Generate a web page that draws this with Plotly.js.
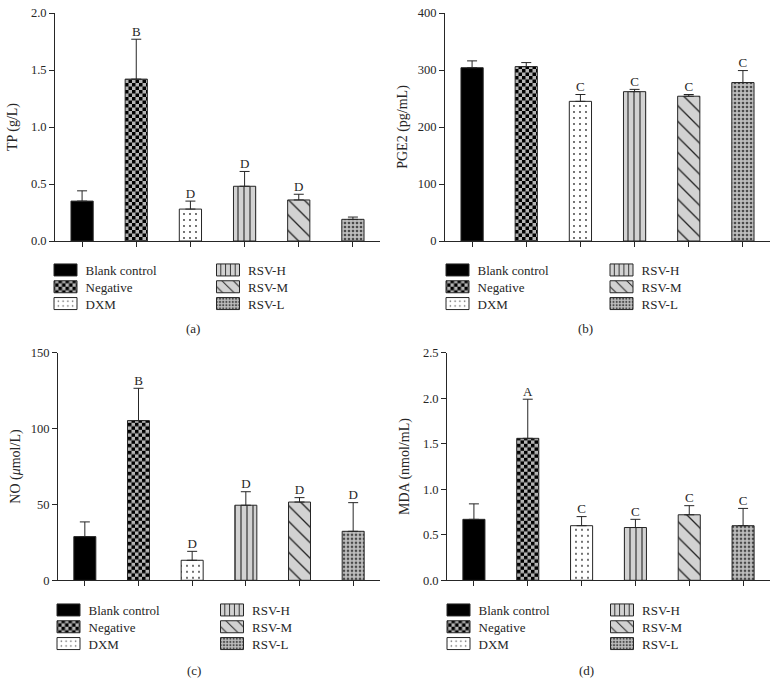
<!DOCTYPE html>
<html>
<head>
<meta charset="utf-8">
<script src="https://cdn.plot.ly/plotly-3.0.1.min.js"></script>
<style>
html,body{margin:0;padding:0;background:#fff;}
#chart{width:780px;height:695px;}
</style>
</head>
<body>
<div id="chart"></div>
<script>
// ---- data ----
const groups = ['Blank control', 'Negative', 'DXM', 'RSV-H', 'RSV-M', 'RSV-L'];

const tpValues = [0.35, 1.42, 0.28, 0.48, 0.36, 0.19];
const tpErrors = [0.09, 0.35, 0.07, 0.13, 0.05, 0.02];
const tpLetters = ['', 'B', 'D', 'D', 'D', ''];

const pgeValues = [304, 306, 245, 262, 254, 278];
const pgeErrors = [12, 7, 12, 4, 3, 21];
const pgeLetters = ['', '', 'C', 'C', 'C', 'C'];

const noValues = [28.8, 105.3, 13.2, 49.5, 51.6, 32.3];
const noErrors = [9.7, 21.3, 5.9, 8.9, 2.9, 18.9];
const noLetters = ['', 'B', 'D', 'D', 'D', 'D'];

const mdaValues = [0.67, 1.56, 0.60, 0.58, 0.72, 0.60];
const mdaErrors = [0.17, 0.43, 0.10, 0.09, 0.10, 0.19];
const mdaLetters = ['', 'A', 'C', 'C', 'C', 'C'];

const panelTitles = ['TP (g/L)', 'PGE2 (pg/mL)', 'NO (<i>μ</i>mol/L)', 'MDA (nmol/mL)'];
const panelLabels = ['(a)', '(b)', '(c)', '(d)'];
const yRanges = [[0, 2], [0, 400], [0, 150], [0, 2.5]];
const yDticks = [0.5, 100, 50, 0.5];
const yFormats = ['.1f', 'd', 'd', '.1f'];

// ---- styles ----
const FONT = 'Liberation Serif, Times New Roman, serif';
const INK = '#262626';
const barStyles = [
  {bg: '#000000', pattern: null},
  {bg: '#b4b4b4', pattern: {shape: '+', fgcolor: '#000', bgcolor: '#b4b4b4', size: 7, solidity: 0.5}},
  {bg: '#ffffff', pattern: {shape: '.', fgcolor: '#333', bgcolor: '#ffffff', size: 6, solidity: 0.07}},
  {bg: '#d2d2d2', pattern: {shape: '|', fgcolor: '#333', bgcolor: '#d2d2d2', size: 6, solidity: 0.2}},
  {bg: '#d2d2d2', pattern: {shape: '\\', fgcolor: '#222', bgcolor: '#d2d2d2', size: 11, solidity: 0.12}},
  {bg: '#bdbdbd', pattern: {shape: '.', fgcolor: '#4a4a4a', bgcolor: '#bdbdbd', size: 4, solidity: 0.35}}
];

const panels = [
  {vals: tpValues, errs: tpErrors, letters: tpLetters},
  {vals: pgeValues, errs: pgeErrors, letters: pgeLetters},
  {vals: noValues, errs: noErrors, letters: noLetters},
  {vals: mdaValues, errs: mdaErrors, letters: mdaLetters}
];

// panel geometry (paper fractions)
const W = 780, H = 695;
const xDomains = [[55 / W, 380 / W], [445 / W, 770 / W], [58 / W, 380 / W], [447 / W, 770 / W]];
const yDomains = [[1 - 241 / H, 1 - 13 / H], [1 - 241 / H, 1 - 13 / H], [1 - 580.3 / H, 1 - 352.8 / H], [1 - 580.3 / H, 1 - 352.8 / H]];
const legendX = [[45.5, 208], [437.5, 601.5], [48.5, 212], [438.5, 602]];
const legendTop = [255, 255, 595, 595];
const labelPos = [[193, 328], [585, 328], [194, 670], [586, 670]];
const LEGEND_ROW = 16.8;

const traces = [];
const layout = {
  width: W, height: H,
  margin: {l: 0, r: 0, t: 0, b: 0},
  paper_bgcolor: '#fff', plot_bgcolor: '#fff',
  font: {family: FONT, size: 13, color: INK},
  barmode: 'overlay',
  showlegend: true,
  annotations: []
};

panels.forEach((p, k) => {
  const xa = k === 0 ? 'x' : 'x' + (k + 1);
  const ya = k === 0 ? 'y' : 'y' + (k + 1);
  const legA = 'legend' + (k === 0 ? '' : (2 * k + 1));
  const legB = 'legend' + (2 * k + 2);
  groups.forEach((g, i) => {
    const st = barStyles[i];
    const marker = {color: st.bg, line: {color: INK, width: 1}};
    if (st.pattern) marker.pattern = Object.assign({fillmode: 'replace'}, st.pattern);
    traces.push({
      type: 'bar', name: g, x: [g], y: [p.vals[i]], width: 0.41,
      xaxis: xa, yaxis: ya, marker: marker,
      legend: i < 3 ? legA : legB,
      error_y: {type: 'data', symmetric: false, array: [p.errs[i]], arrayminus: [0],
                color: INK, thickness: 1, width: 5},
      hoverinfo: 'skip'
    });
  });
  traces.push({
    type: 'scatter', mode: 'text', x: groups,
    y: p.vals.map((v, i) => v + p.errs[i]),
    text: p.letters, textposition: 'top center',
    textfont: {family: FONT, size: 13, color: INK},
    xaxis: xa, yaxis: ya, showlegend: false, cliponaxis: false, hoverinfo: 'skip'
  });

  const xkey = k === 0 ? 'xaxis' : 'xaxis' + (k + 1);
  const ykey = k === 0 ? 'yaxis' : 'yaxis' + (k + 1);
  layout[xkey] = {
    domain: xDomains[k], anchor: ya, type: 'category', categoryarray: groups,
    range: [-0.5, 5.5], showticklabels: false, ticks: 'outside', ticklen: 5,
    tickcolor: INK, showline: true, linecolor: INK, linewidth: 1,
    showgrid: false, zeroline: false, fixedrange: true
  };
  layout[ykey] = {
    domain: yDomains[k], anchor: xa, range: yRanges[k], dtick: yDticks[k],
    tickformat: yFormats[k], ticks: 'outside', ticklen: 5, tickcolor: INK,
    tickfont: {family: FONT, size: 12.5, color: INK},
    showline: true, linecolor: INK, linewidth: 1, showgrid: false, zeroline: false,
    title: {text: panelTitles[k], font: {family: FONT, size: 14, color: INK}},
    fixedrange: true
  };
  [legA, legB].forEach((lk, c) => {
    layout[lk] = {
      x: legendX[k][c] / W, y: 1 - legendTop[k] / H, xanchor: 'left', yanchor: 'top',
      bgcolor: 'rgba(0,0,0,0)', borderwidth: 0, traceorder: 'normal',
      font: {family: FONT, size: 13, color: INK}, itemclick: false, itemdoubleclick: false
    };
  });
  layout.annotations.push({
    xref: 'paper', yref: 'paper', x: labelPos[k][0] / W, y: 1 - labelPos[k][1] / H,
    text: panelLabels[k], showarrow: false, font: {family: FONT, size: 13, color: INK},
    xanchor: 'center', yanchor: 'middle'
  });
});

function ensureChecker(gd) {
  if (document.getElementById('checker')) return;
  const svgNS = 'http://www.w3.org/2000/svg';
  const svg = gd.querySelector('svg.main-svg');
  let defs = svg.querySelector('defs');
  if (!defs) { defs = document.createElementNS(svgNS, 'defs'); svg.insertBefore(defs, svg.firstChild); }
  const pat = document.createElementNS(svgNS, 'pattern');
  pat.setAttribute('id', 'checker');
  pat.setAttribute('patternUnits', 'userSpaceOnUse');
  pat.setAttribute('width', '7'); pat.setAttribute('height', '7');
  [['0', '0', '7', '7', '#b4b4b4'], ['0', '0', '3.5', '3.5', '#000'], ['3.5', '3.5', '3.5', '3.5', '#000']].forEach(r => {
    const e = document.createElementNS(svgNS, 'rect');
    e.setAttribute('x', r[0]); e.setAttribute('y', r[1]);
    e.setAttribute('width', r[2]); e.setAttribute('height', r[3]);
    e.setAttribute('fill', r[4]);
    pat.appendChild(e);
  });
  defs.appendChild(pat);
}

function parseTranslate(s) {
  const m = /translate\(\s*([-\d.e]+)[ ,]+([-\d.e]+)\s*\)/.exec(s || '');
  return m ? [parseFloat(m[1]), parseFloat(m[2])] : null;
}

function restyleMarks(gd) {
  ensureChecker(gd);
  gd.querySelectorAll('g.trace.bars').forEach(g => {
    const cd = g.__data__;
    if (cd && cd[0] && cd[0].trace && cd[0].trace.name === 'Negative') {
      g.querySelectorAll('path').forEach(p => { p.style.fill = 'url(#checker)'; });
    }
  });
  gd.querySelectorAll('g.legendpoints path').forEach(p => {
    const d = p.__data__;
    const tr = d && d[0] && d[0].trace;
    if (!tr || tr.type !== 'bar') return;
    p.setAttribute('d', 'M11.5,6H-11.5V-6H11.5Z');
    p.style.stroke = INK;
    p.style.strokeWidth = '1px';
    if (tr.name === 'Negative') p.style.fill = 'url(#checker)';
  });
  // tighten legend row spacing (each legend box separately)
  const boxes = new Set();
  gd.querySelectorAll('g.traces').forEach(it => { if (it.parentNode) boxes.add(it.parentNode); });
  boxes.forEach(box => {
    const items = Array.from(box.children).filter(c => c.classList && c.classList.contains('traces'));
    items.forEach(it => {
      if (!it.dataset.origT) it.dataset.origT = it.getAttribute('transform') || '';
    });
    const pos = items.map(it => parseTranslate(it.dataset.origT));
    if (!pos.length || pos.some(v => !v)) return;
    const ys = pos.map(v => v[1]).slice().sort((a, b) => a - b);
    const y0 = ys[0];
    items.forEach((it, idx) => {
      const rank = ys.indexOf(pos[idx][1]);
      it.setAttribute('transform', 'translate(' + pos[idx][0] + ',' + (y0 + rank * LEGEND_ROW) + ')');
    });
  });
}

Plotly.newPlot('chart', traces, layout, {displayModeBar: false, staticPlot: true}).then(gd => {
  restyleMarks(gd);
  gd.on('plotly_afterplot', () => restyleMarks(gd));
  setTimeout(() => restyleMarks(gd), 30);
  setTimeout(() => restyleMarks(gd), 200);
});
</script>
</body>
</html>
